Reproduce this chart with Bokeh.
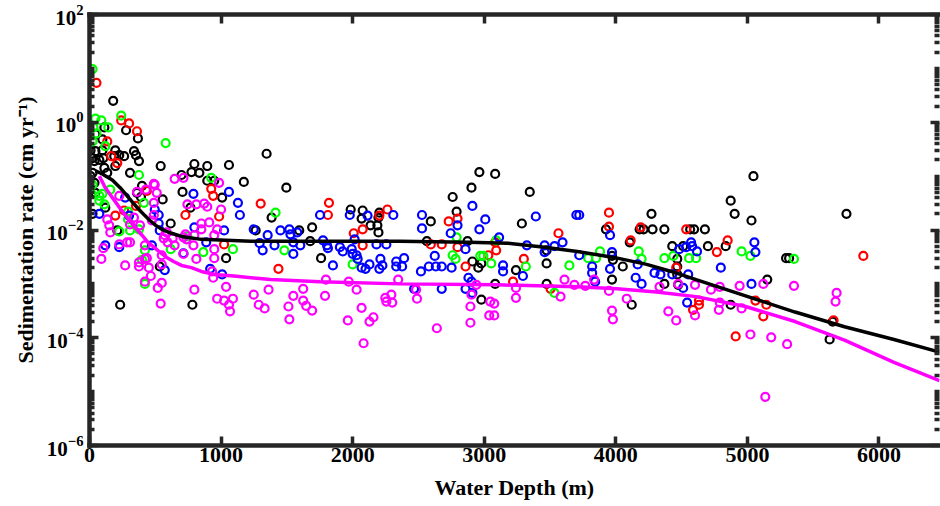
from bokeh.plotting import figure
from bokeh.models import FixedTicker, LinearAxis, LogAxis, LogTickFormatter, Range1d, CustomJSTickFormatter
from bokeh.embed import file_html
from bokeh.resources import INLINE

# ---------------- data ----------------
black_depth = [180, 113, 45, 98, 278, 368, 8, 45, 98, 196, 226, 263, 338, 353, 376, 23, 38, 75, 105, 188,
               196, 541, 1346, 797, 895, 1060, 23, 113, 135, 308, 775, 835, 699, 8, 895, 948, 1173, 1496, 38, 399,
               361, 391, 45, 707, 1008, 556, 120, 767, 23, 1384, 617, 1263, 1594, 1692, 1677, 211, 1038, 534, 233, 782,
               1760, 1985, 2076, 2068, 2203, 2196, 2136, 2188, 2196, 2594, 2564, 2760, 2790, 2903, 2963, 3083, 2873, 2910, 2955, 2978,
               2978, 3083, 3286, 3346, 3241, 3474, 3474, 3474, 3925, 3971, 3971, 3978, 4053, 4106, 4271, 4181, 4211, 4279, 4369, 4565,
               4595, 4677, 4429, 4512, 4700, 4835, 4467, 4467, 4467, 4369, 4474, 4121, 4873, 4873, 4903, 5031, 5046, 5151, 5294, 5317,
               5753, 5648, 5625]
black_rate = [2.5, 0.80, 0.60, 0.48, 0.71, 0.50, 0.30, 0.29, 0.30, 0.30, 0.245, 0.235, 0.29, 0.245, 0.19, 0.216, 0.19, 0.20, 0.216, 0.235,
              0.154, 0.154, 0.26, 0.168, 0.154, 0.161, 0.115, 0.142, 0.115, 0.115, 0.119, 0.115, 0.105, 0.10, 0.082, 0.082, 0.078, 0.061, 0.075, 0.066,
              0.049, 0.041, 0.049, 0.051, 0.040, 0.037, 0.026, 0.026, 0.020, 0.017, 0.0132, 0.0098, 0.0098, 0.0112, 0.0062, 0.0098, 0.0030, 0.0021, 0.00041, 0.00041,
              0.0030, 0.024, 0.023, 0.0163, 0.021, 0.017, 0.0122, 0.0122, 0.0090, 0.0144, 0.0062, 0.041, 0.022, 0.061, 0.119, 0.110, 0.0062, 0.0026, 0.0020, 0.0024,
              0.00051, 0.0010, 0.0132, 0.051, 0.0018, 0.0042, 0.0024, 0.0010, 0.0103, 0.0033, 0.0012, 0.0028, 0.0021, 0.0059, 0.020, 0.0103, 0.0103, 0.0103, 0.0103, 0.0103,
              0.0103, 0.0103, 0.0050, 0.0050, 0.0050, 0.0050, 0.0029, 0.0021, 0.0015, 0.0010, 0.00096, 0.00041, 0.00041, 0.035, 0.020, 0.015, 0.10, 0.0012, 0.0030, 0.0030,
              0.020, 0.00020, 0.000093]

red_depth = [53, 241, 301, 361, 135, 165, 211, 436, 925, 940, 1301, 729, 985, 196, 353, 263, 1436, 1023, 1820, 1812,
             2264, 2203, 2008, 2076, 2076, 2594, 2677, 2730, 2797, 2797, 2858, 3031, 3091, 3083, 3301, 3219, 3564, 3504, 3948, 3948,
             4113, 4189, 4535, 4459, 4850, 4768, 4632, 4632, 4587, 5061, 5144, 5121, 4911, 5655, 5881]
red_rate = [5.4, 1.08, 0.95, 0.68, 0.44, 0.235, 0.175, 0.053, 0.058, 0.043, 0.031, 0.019, 0.0178, 0.0185, 0.028, 0.023, 0.0019, 0.0054, 0.032, 0.019,
            0.024, 0.0185, 0.0087, 0.0103, 0.0052, 0.0054, 0.0054, 0.0144, 0.0163, 0.0048, 0.0021, 0.0034, 0.0042, 0.0059, 0.0029, 0.0011, 0.0087, 0.00081, 0.021, 0.0116,
            0.0064, 0.0112, 0.0103, 0.0020, 0.0064, 0.0039, 0.00049, 0.00041, 0.00033, 0.00049, 0.00041, 0.00025, 0.000106, 0.00021, 0.0033]

green_depth = [23, 45, 90, 143, 30, 53, 241, 23, 120, 579, 376, 925, 23, 15, 98, 158, 414, 75, 113, 75,
               1414, 293, 293, 226, 308, 376, 744, 1481, 421, 617, 865, 1090, 399, 421, 2000, 2790, 2760, 2782, 2970, 2993,
               3091, 3053, 3316, 3647, 3534, 3790, 3850, 3880, 4174, 4196, 4369, 4437, 4557, 4610, 4956, 5023, 5354]
green_rate = [9.7, 1.17, 1.08, 0.80, 0.80, 0.62, 1.33, 0.44, 0.36, 0.41, 0.105, 0.093, 0.069, 0.047, 0.047, 0.056, 0.032, 0.035, 0.030, 0.043,
              0.021, 0.022, 0.0157, 0.0094, 0.0098, 0.0103, 0.0076, 0.0042, 0.0042, 0.0044, 0.0039, 0.0044, 0.0028, 0.0010, 0.0023, 0.0073, 0.0034, 0.0029, 0.0033, 0.0033,
              0.0064, 0.0024, 0.0021, 0.0022, 0.00068, 0.0030, 0.0030, 0.0040, 0.0040, 0.0029, 0.0030, 0.0033, 0.0030, 0.0030, 0.0040, 0.0033, 0.0029]

blue_depth = [790, 1060, 271, 1128, 1143, 1752, 75, 526, 797, 1023, 1248, 1354, 1451, 1527, 534, 526, 1293, 1316, 1406, 1549,
              1549, 1602, 120, 226, 474, 714, 887, 572, 917, 1008, 496, 301, 1519, 1579, 1805, 1775, 1812, 1903, 1925, 1993,
              2000, 2015, 2030, 2038, 2068, 2098, 2128, 1850, 1978, 2113, 2309, 2181, 2256, 2211, 2226, 2203, 2331, 2331, 2376, 2391,
              2467, 2677, 2527, 2527, 2624, 2579, 2632, 2677, 2519, 2752, 2745, 2910, 3008, 2963, 2797, 2858, 3113, 2880, 2858, 2903,
              2910, 3143, 3143, 3392, 3324, 3294, 3459, 3459, 3534, 3595, 3700, 3722, 3722, 3820, 3820, 3843, 3956, 3956, 3971, 4166,
              4151, 4196, 4294, 4339, 4429, 4512, 4550, 4482, 4535, 4572, 4580, 4617, 4798, 5031, 4542, 5053, 5061]
blue_rate = [0.047, 0.051, 0.040, 0.032, 0.019, 0.019, 0.020, 0.019, 0.0112, 0.0098, 0.0103, 0.0080, 0.0098, 0.0083, 0.0098, 0.0132, 0.0057, 0.0042, 0.0052, 0.0059,
             0.0036, 0.0052, 0.0052, 0.0048, 0.0052, 0.0037, 0.0059, 0.0018, 0.0019, 0.0015, 0.024, 0.0185, 0.0103, 0.0090, 0.0052, 0.0064, 0.0046, 0.0048, 0.0040, 0.0044,
             0.0036, 0.0067, 0.0034, 0.0029, 0.0020, 0.0019, 0.0023, 0.0022, 0.019, 0.0185, 0.019, 0.0054, 0.0054, 0.0029, 0.0022, 0.0019, 0.0026, 0.0021, 0.0021, 0.0030,
             0.00081, 0.00081, 0.019, 0.0107, 0.0033, 0.0021, 0.0021, 0.0021, 0.0017, 0.0020, 0.0087, 0.028, 0.0157, 0.0103, 0.0122, 0.0044, 0.0073, 0.0013, 0.00081, 0.0011,
             0.00068, 0.0022, 0.0017, 0.0178, 0.0052, 0.0014, 0.0052, 0.0039, 0.0050, 0.0059, 0.019, 0.019, 0.0034, 0.0021, 0.0016, 0.0011, 0.0019, 0.0080, 0.0039, 0.0023,
             0.0013, 0.0010, 0.0016, 0.0015, 0.0015, 0.00084, 0.0015, 0.0044, 0.0048, 0.0059, 0.0050, 0.0040, 0.0020, 0.0010, 0.00045, 0.0059, 0.0039]

magenta_depth = [647, 714, 985, 496, 361, 429, 489, 511, 226, 489, 744, 812, 872, 895, 1000, 135, 150, 158, 308, 384,
                 474, 489, 572, 729, 850, 910, 970, 850, 797, 948, 105, 226, 286, 308, 421, 594, 714, 790, 948, 338,
                 564, 632, 587, 647, 737, 90, 271, 376, 421, 376, 451, 549, 549, 714, 421, 466, 549, 519, 541, 797,
                 812, 932, 940, 948, 1038, 970, 1023, 1090, 1060, 1068, 1248, 1286, 1331, 1361, 1512, 1519, 1549, 1624, 1624, 1647,
                 1692, 436, 1797, 1970, 2346, 1790, 2030, 2068, 1963, 2128, 2158, 2083, 2248, 2294, 2301, 2256, 2482, 2489, 2640, 2940,
                 2903, 2895, 2895, 3046, 3076, 3038, 3076, 3241, 3241, 3580, 3610, 3685, 3768, 3835, 3948, 3971, 3978, 4083, 4332, 4399,
                 4459, 4602, 4474, 4602, 4723, 4790, 4941, 5121, 5354, 4790, 4783, 4956, 5023, 5181, 5302, 5136, 5678, 5670]
magenta_rate = [0.089, 0.093, 0.075, 0.069, 0.051, 0.056, 0.072, 0.049, 0.043, 0.032, 0.030, 0.030, 0.031, 0.027, 0.024, 0.0157, 0.0122, 0.0090, 0.0127, 0.0122,
                0.015, 0.019, 0.0080, 0.0083, 0.0132, 0.0138, 0.0103, 0.0103, 0.0080, 0.0080, 0.0046, 0.0054, 0.0059, 0.0059, 0.0052, 0.0059, 0.0073, 0.0052, 0.0044, 0.017,
                0.0070, 0.0070, 0.0090, 0.0052, 0.0067, 0.0029, 0.0022, 0.0025, 0.0029, 0.0021, 0.0020, 0.0023, 0.0034, 0.0036, 0.0011, 0.0014, 0.00104, 0.00084, 0.00043, 0.00078,
                0.0029, 0.0017, 0.0013, 0.0030, 0.00088, 0.00053, 0.00049, 0.00053, 0.00041, 0.00031, 0.00063, 0.00041, 0.00035, 0.00078, 0.00038, 0.00022, 0.00060, 0.00081, 0.00049, 0.00039,
                0.00032, 0.0030, 0.0012, 0.0011, 0.0012, 0.00060, 0.00078, 0.00036, 0.00021, 0.00020, 0.00024, 0.000079, 0.00055, 0.00063, 0.00045, 0.00047, 0.00078, 0.00053, 0.00015, 0.00096,
                0.00063, 0.00038, 0.00019, 0.00047, 0.00043, 0.00026, 0.00026, 0.00084, 0.00055, 0.00058, 0.0012, 0.00096, 0.00092, 0.0012, 0.00074, 0.00032, 0.00022, 0.00053, 0.00088, 0.00031,
                0.00021, 0.00026, 0.0010, 0.00096, 0.00078, 0.00088, 0.00092, 0.0010, 0.00092, 0.00045, 0.00033, 0.00035, 0.000115, 0.000102, 0.000076, 0.0000080, 0.00068, 0.00047]

# fitted curves
black_fit_depth = [45, 98, 173, 233, 286, 331, 376, 421, 459, 504, 549, 624, 699, 850, 1226, 1752, 2354, 2880, 3181, 3459,
                   3707, 3986, 4234, 4422, 4610, 4986, 5362, 5738, 6114, 6460]
black_fit_rate = [0.125, 0.11, 0.085, 0.061, 0.043, 0.032, 0.024, 0.0185, 0.015, 0.0122, 0.0103, 0.0087, 0.0076, 0.0067, 0.0062, 0.0062, 0.0062, 0.0059, 0.0057, 0.0048,
                  0.0040, 0.0031, 0.0023, 0.0017, 0.0012, 0.00060, 0.00030, 0.00016, 0.000093, 0.000054]
magenta_fit_depth = [75, 120, 173, 233, 286, 346, 399, 444, 489, 534, 587, 639, 699, 775, 850, 948, 1098, 1376, 1752, 2354,
                     3106, 3707, 4008, 4309, 4610, 4986, 5362, 5738, 6114, 6460]
magenta_fit_rate = [0.10, 0.061, 0.040, 0.025, 0.017, 0.0112, 0.0080, 0.0059, 0.0048, 0.0039, 0.0031, 0.0026, 0.0022, 0.0020, 0.0017, 0.0015, 0.0014, 0.0012, 0.0011, 0.0010,
                    0.00096, 0.00088, 0.00081, 0.00071, 0.00058, 0.00038, 0.00020, 0.000090, 0.000035, 0.000016]

x_ticks = [0, 1000, 2000, 3000, 4000, 5000, 6000]
y_ticks = [1e-6, 1e-4, 1e-2, 1e0, 1e2]
y_minor = [k * 10.0 ** n for n in range(-6, 2) for k in range(1, 10) if not (k == 1 and n % 2 == 0)]

FONT = "Liberation Serif"
FRAME = "#262626"

p = figure(width=940, height=505, y_axis_type="log",
           x_range=Range1d(0, 6460), y_range=Range1d(1e-6, 1e2),
           output_backend="svg", toolbar_location=None,
           min_border_left=89, min_border_right=1, min_border_top=14, min_border_bottom=60)
p.grid.visible = False
p.outline_line_color = None
p.background_fill_color = "white"
p.border_fill_color = "white"

xt = FixedTicker(ticks=x_ticks, minor_ticks=[])
yt = FixedTicker(ticks=y_ticks, minor_ticks=y_minor)

def style(ax, labels=True, line=True):
    if line:
        ax.axis_line_color = FRAME
        ax.axis_line_width = 4.5
        ax.axis_line_cap = "square"
    else:
        ax.axis_line_color = None
    ax.major_tick_in = 9
    ax.major_tick_out = 0
    ax.minor_tick_in = 5
    ax.minor_tick_out = 0
    ax.major_tick_line_color = FRAME
    ax.minor_tick_line_color = FRAME
    ax.major_tick_line_width = 3.5
    ax.minor_tick_line_width = 3.5
    if labels:
        ax.major_label_text_font = FONT
        ax.major_label_text_font_style = "bold"
        ax.major_label_text_font_size = "22px"
        ax.major_label_text_color = "black"
        ax.axis_label_text_font = FONT
        ax.axis_label_text_font_style = "bold"
        ax.axis_label_text_font_size = "22px"
        ax.axis_label_text_color = "black"
    else:
        ax.formatter = CustomJSTickFormatter(code="return ''")
        ax.major_label_text_font_size = "1px"
        ax.major_label_standoff = 0

xa = p.xaxis[0]
xa.ticker = xt
style(xa)
xa.major_label_standoff = 2
xa.axis_label = "Water Depth (m)"
xa.axis_label_standoff = 10

ya = p.yaxis[0]
ya.ticker = yt
ya.formatter = LogTickFormatter()
style(ya)
ya.major_label_text_font_size = "21px"
ya.major_label_standoff = 6
ya.axis_label = "Sedimentation rate (cm yr\u207b\u00b9)"
ya.axis_label_standoff = 6

top = LinearAxis(ticker=xt)
style(top, labels=False)
top.minor_tick_line_color = None
p.add_layout(top, "above")
right = LogAxis(ticker=yt)
style(right, labels=False, line=False)
p.add_layout(right, "right")

# scatter points
for d, r, c in [(black_depth, black_rate, "#000000"),
                (red_depth, red_rate, "#ff0000"),
                (green_depth, green_rate, "#00ff00"),
                (blue_depth, blue_rate, "#0000ff"),
                (magenta_depth, magenta_rate, "#ff00ff")]:
    p.scatter(d, r, marker="circle", size=8, fill_color=None, line_color=c, line_width=2.2)

p.line(black_fit_depth, black_fit_rate, line_color="#000000", line_width=3.5)
p.line(magenta_fit_depth, magenta_fit_rate, line_color="#ff00ff", line_width=3.5)

open("out.html", "w").write(file_html(p, INLINE))
